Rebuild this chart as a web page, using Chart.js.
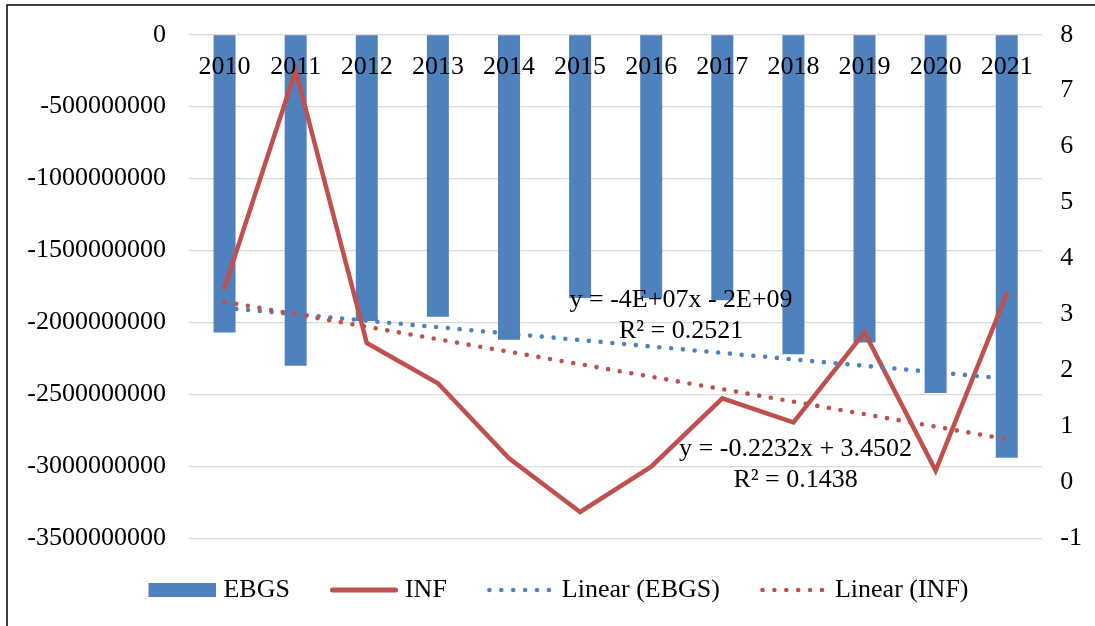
<!DOCTYPE html>
<html>
<head>
<meta charset="utf-8">
<script src="https://cdn.jsdelivr.net/npm/chart.js@4.4.1/dist/chart.umd.min.js"></script>
<style>
  html, body { margin: 0; padding: 0; background: #fff; }
  #wrap { width: 1095px; height: 626px; position: relative; }
</style>
</head>
<body>
<div id="wrap"><canvas id="chart" width="1095" height="626"></canvas></div>
<script>
// Years on the category axis
const years = ['2010', '2011', '2012', '2013', '2014', '2015', '2016', '2017', '2018', '2019', '2020', '2021'];
// EBGS (left axis)
const ebgs = [-2.07e9, -2.30e9, -1.99e9, -1.96e9, -2.12e9, -1.83e9, -1.83e9, -1.845e9, -2.22e9, -2.14e9, -2.49e9, -2.94e9];
// INF (right axis)
const inf = [3.48, 7.36, 2.49, 1.77, 0.43, -0.53, 0.28, 1.50, 1.07, 2.68, 0.21, 3.37];
// Axis ranges
const leftRange = [-3500000000, 0, 500000000];
const rightRange = [-1, 8, 1];
// Linear trend for INF as printed on the chart
const infTrendCoef = [-0.2232, 3.4502];
// Trendline equation texts
const ebgsNote = ['y = -4E+07x - 2E+09', 'R² = 0.2521'];
const infNote = ['y = -0.2232x + 3.4502', 'R² = 0.1438'];
// Legend names
const names = ['EBGS', 'INF', 'Linear (EBGS)', 'Linear (INF)'];

const BLUE = '#4F81BD';
const RED = '#C0504D';
const FONT = 'Liberation Serif, "Times New Roman", serif';
const FS = 26;

// Least-squares line through (1..n, values)
function linearFit(vals) {
  const n = vals.length;
  let sx = 0, sy = 0, sxx = 0, sxy = 0;
  vals.forEach((v, i) => { const x = i + 1; sx += x; sy += v; sxx += x * x; sxy += x * v; });
  const slope = (n * sxy - sx * sy) / (n * sxx - sx * sx);
  const icpt = (sy - slope * sx) / n;
  return vals.map((_, i) => icpt + slope * (i + 1));
}
const ebgsTrend = linearFit(ebgs);
const infTrend = years.map((_, i) => infTrendCoef[1] + infTrendCoef[0] * (i + 1));

// Where each equation block sits: [category index, axis value]
const ebgsNoteAt = { x: 6.42, y: -1844000000, axis: 'y' };
const infNoteAt = { x: 8.03, y: 0.596, axis: 'y1' };

// Legend keys: 80px wide swatches whose drawing occupies the right 68px,
// so the key sits close to its text
function legendKey(kind, color) {
  const c = document.createElement('canvas');
  c.width = 80; c.height = 20;
  const g = c.getContext('2d');
  g.fillStyle = color; g.strokeStyle = color;
  if (kind === 'rect') {
    g.fillRect(12, 3, 68, 14);
  } else if (kind === 'line') {
    g.lineWidth = 5; g.lineCap = 'round';
    g.beginPath(); g.moveTo(14.5, 10); g.lineTo(77.5, 10); g.stroke();
  } else {
    for (let k = 0; k < 6; k++) {
      g.beginPath(); g.arc(14.5 + k * 11.9, 10, 2.3, 0, Math.PI * 2); g.fill();
    }
  }
  return c;
}
const keys = [legendKey('rect', BLUE), legendKey('line', RED), legendKey('dots', BLUE), legendKey('dots', RED)];

const notesPlugin = {
  id: 'notes',
  afterDraw(chart) {
    const ctx = chart.ctx;
    ctx.save();
    // chart frame (left and top edges)
    ctx.strokeStyle = '#000';
    ctx.lineWidth = 1.5;
    ctx.beginPath();
    ctx.moveTo(7, 626);
    ctx.lineTo(7, 5);
    ctx.lineTo(1095, 5);
    ctx.stroke();
    // trendline equations
    ctx.fillStyle = '#000';
    ctx.font = FS + 'px ' + FONT;
    ctx.textAlign = 'center';
    ctx.textBaseline = 'middle';
    const lh = FS * 1.2;
    [[ebgsNote, ebgsNoteAt], [infNote, infNoteAt]].forEach(([lines, at]) => {
      const px = chart.scales.x.getPixelForValue(at.x);
      const py = chart.scales[at.axis].getPixelForValue(at.y);
      lines.forEach((t, k) => ctx.fillText(t, px, py + k * lh));
    });
    ctx.restore();
  }
};

new Chart(document.getElementById('chart'), {
  type: 'bar',
  data: {
    labels: years,
    datasets: [
      {
        type: 'bar', label: names[0], data: ebgs, yAxisID: 'y',
        backgroundColor: BLUE, borderWidth: 0,
        barPercentage: 0.309, categoryPercentage: 1, order: 3
      },
      {
        type: 'line', label: names[1], data: inf, yAxisID: 'y1',
        borderColor: RED, backgroundColor: RED, borderWidth: 4.5,
        borderCapStyle: 'round', borderJoinStyle: 'miter',
        pointRadius: 0, tension: 0, fill: false, order: 2
      },
      {
        type: 'line', label: names[2], data: ebgsTrend, yAxisID: 'y',
        borderColor: BLUE, backgroundColor: BLUE, borderWidth: 4.6,
        borderDash: [0, 11.8], borderCapStyle: 'round',
        pointRadius: 0, tension: 0, fill: false, order: 1
      },
      {
        type: 'line', label: names[3], data: infTrend, yAxisID: 'y1',
        borderColor: RED, backgroundColor: RED, borderWidth: 4.6,
        borderDash: [0, 11.8], borderCapStyle: 'round',
        pointRadius: 0, tension: 0, fill: false, order: 0
      }
    ]
  },
  options: {
    responsive: false,
    animation: false,
    events: [],
    layout: { padding: { left: 16, right: 0, top: 34.7, bottom: 13 } },
    scales: {
      x: {
        type: 'category',
        position: { y: 0 },
        offset: true,
        grid: { display: false, drawTicks: false },
        border: { display: false },
        ticks: { z: 1, padding: 17, color: '#000', font: { family: FONT, size: FS }, maxRotation: 0, autoSkip: false }
      },
      y: {
        position: 'left',
        min: leftRange[0], max: leftRange[1],
        afterFit: s => { s.width = 173; },
        grid: { color: '#d9d9d9', lineWidth: 1.3, drawTicks: true, tickLength: 23, tickColor: 'rgba(0,0,0,0)' },
        border: { display: false },
        ticks: {
          stepSize: leftRange[2], padding: 0, color: '#000',
          font: { family: FONT, size: FS },
          callback: v => String(Math.round(v))
        }
      },
      y1: {
        position: 'right',
        min: rightRange[0], max: rightRange[1],
        afterFit: s => { s.width = 52.7; },
        grid: { display: true, drawOnChartArea: false, drawTicks: true, tickLength: 18, tickColor: 'rgba(0,0,0,0)', color: 'rgba(0,0,0,0)' },
        border: { display: false },
        ticks: { stepSize: rightRange[2], padding: 0, color: '#000', font: { family: FONT, size: FS } }
      }
    },
    plugins: {
      tooltip: { enabled: false },
      legend: {
        position: 'bottom',
        title: { display: true, text: ' ', font: { size: 1 }, padding: 1.75 },
        labels: {
          usePointStyle: true,
          pointStyleWidth: 68,
          boxHeight: 14,
          padding: 34,
          color: '#000',
          font: { family: FONT, size: FS },
          sort: (a, b) => a.datasetIndex - b.datasetIndex,
          generateLabels(chart) {
            const items = Chart.defaults.plugins.legend.labels.generateLabels(chart);
            items.forEach(it => {
              it.pointStyle = keys[it.datasetIndex];
              it.lineWidth = 0;
              it.lineDash = [];
            });
            return items;
          }
        }
      }
    }
  },
  plugins: [notesPlugin]
});
</script>
</body>
</html>
